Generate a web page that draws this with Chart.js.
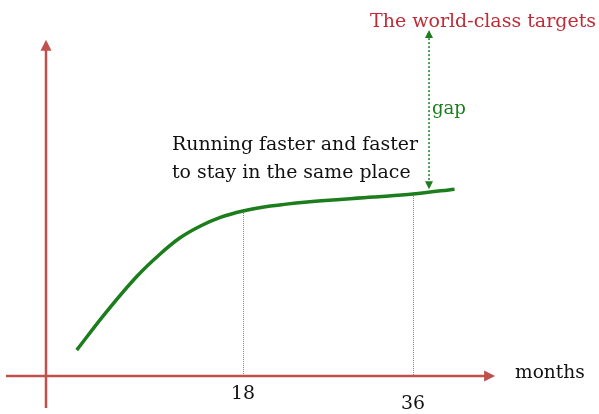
<!DOCTYPE html>
<html>
<head>
<meta charset="utf-8">
<script src="https://cdn.jsdelivr.net/npm/chart.js@4/dist/chart.umd.min.js"></script>
<style>
  html, body { margin: 0; padding: 0; background: #fff; }
  #wrap { width: 599px; height: 414px; position: relative; }
</style>
</head>
<body>
<div id="wrap"><canvas id="curveChart"></canvas></div>
<script>
// Performance curve over months
const months = [0.4, 3.2, 6.8, 9.2, 11.3, 13.5, 15.6, 18, 20.9, 24.8, 31.8, 36, 40.4];
const performance = [6.9, 16.0, 26.6, 32.4, 36.7, 39.9, 42.2, 43.9, 45.2, 46.3, 47.6, 48.4, 49.7];
const tickMonths = [18, 36];
const tickLabels = ['18', '36'];
const targetLevel = 92;   // world-class target
const axisLabel = 'months';
const targetLabel = 'The world-class targets';
const gapLabel = 'gap';
const noteLines = ['Running faster and faster', 'to stay in the same place'];

const AXIS_RED = '#c0504d';
const GREEN = '#1b7d1b';
const SERIF = '"DejaVu Serif", "Liberation Serif", serif';

// pick a font size so the text spans roughly the given width
function fitFont(ctx, text, width) {
    ctx.font = '20px ' + SERIF;
    const size = 20 * width / ctx.measureText(text).width;
    return size.toFixed(1) + 'px ' + SERIF;
}

function arrowHead(ctx, x, y, dir, size, color) {
    ctx.save();
    ctx.fillStyle = color;
    ctx.beginPath();
    if (dir === 'up') {
        ctx.moveTo(x, y);
        ctx.lineTo(x - size * 0.5, y + size);
        ctx.lineTo(x + size * 0.5, y + size);
    } else if (dir === 'down') {
        ctx.moveTo(x, y);
        ctx.lineTo(x - size * 0.5, y - size);
        ctx.lineTo(x + size * 0.5, y - size);
    } else {
        ctx.moveTo(x, y);
        ctx.lineTo(x - size, y - size * 0.5);
        ctx.lineTo(x - size, y + size * 0.5);
    }
    ctx.closePath();
    ctx.fill();
    ctx.restore();
}

// draws axes, guide lines, the gap arrow and the texts
const sketchPlugin = {
    id: 'sketch',
    beforeDatasetsDraw(chart) {
        const ctx = chart.ctx;
        const xs = chart.scales.x;
        const ys = chart.scales.y;
        const y0 = ys.getPixelForValue(0);

        // dotted guide lines at the tick months
        ctx.save();
        ctx.strokeStyle = '#888';
        ctx.lineWidth = 1;
        ctx.setLineDash([1, 1]);
        tickMonths.forEach(m => {
            const i = months.indexOf(m);
            const top = ys.getPixelForValue(performance[i]);
            const px = Math.round(xs.getPixelForValue(m)) + 0.5;
            ctx.beginPath();
            ctx.moveTo(px, top);
            ctx.lineTo(px, y0);
            ctx.stroke();
        });
        ctx.restore();

        // axes
        const yAxisX = xs.getPixelForValue(-2.86);
        ctx.save();
        ctx.strokeStyle = AXIS_RED;
        ctx.lineWidth = 2.5;
        ctx.beginPath();
        ctx.moveTo(yAxisX, ys.getPixelForValue(-8.5));
        ctx.lineTo(yAxisX, ys.getPixelForValue(87));
        ctx.moveTo(xs.getPixelForValue(-7.1), y0);
        ctx.lineTo(xs.getPixelForValue(43.9), y0);
        ctx.stroke();
        ctx.restore();
        arrowHead(ctx, yAxisX, ys.getPixelForValue(89.4), 'up', 11, AXIS_RED);
        arrowHead(ctx, xs.getPixelForValue(44.7), y0, 'right', 11, AXIS_RED);

        // gap arrow
        const gx = xs.getPixelForValue(37.7);
        const gTop = ys.getPixelForValue(targetLevel);
        const gBot = ys.getPixelForValue(performance[performance.length - 1]);
        ctx.save();
        ctx.strokeStyle = GREEN;
        ctx.lineWidth = 1.5;
        ctx.setLineDash([2, 2]);
        ctx.beginPath();
        ctx.moveTo(gx, gTop + 8);
        ctx.lineTo(gx, gBot - 8);
        ctx.stroke();
        ctx.restore();
        arrowHead(ctx, gx, gTop, 'up', 8, GREEN);
        arrowHead(ctx, gx, gBot, 'down', 8, GREEN);

        // texts
        ctx.save();
        ctx.textBaseline = 'alphabetic';
        ctx.textAlign = 'left';
        ctx.fillStyle = '#be2d37';
        ctx.font = fitFont(ctx, targetLabel, 226);
        ctx.fillText(targetLabel, 370, 27);

        ctx.fillStyle = GREEN;
        ctx.font = fitFont(ctx, gapLabel, 34);
        ctx.fillText(gapLabel, 432, 114);

        ctx.fillStyle = '#111';
        const noteFont = fitFont(ctx, noteLines[0], 246);
        ctx.font = noteFont;
        ctx.fillText(noteLines[0], 172, 150);
        ctx.fillText(noteLines[1], 172, 178);

        ctx.font = fitFont(ctx, axisLabel, 70);
        ctx.textBaseline = 'middle';
        ctx.fillText(axisLabel, 515, y0 - 3);

        ctx.font = noteFont;
        ctx.textAlign = 'center';
        tickMonths.forEach((m, i) => {
            const off = i === 0 ? 18 : 28;
            ctx.fillText(tickLabels[i], xs.getPixelForValue(m), y0 + off);
        });
        ctx.restore();
    }
};

new Chart(document.getElementById('curveChart'), {
    type: 'line',
    data: {
        datasets: [{
            data: months.map((m, i) => ({ x: m, y: performance[i] })),
            borderColor: GREEN,
            borderWidth: 3.5,
            pointRadius: 0,
            fill: false,
            cubicInterpolationMode: 'monotone'
        }]
    },
    options: {
        responsive: true,
        maintainAspectRatio: false,
        animation: false,
        layout: { padding: 0 },
        scales: {
            x: { type: 'linear', display: false, min: -7.73, max: 55.7 },
            y: { display: false, min: -10.1, max: 100 }
        },
        plugins: {
            legend: { display: false },
            tooltip: { enabled: false }
        }
    },
    plugins: [sketchPlugin]
});
</script>
</body>
</html>
